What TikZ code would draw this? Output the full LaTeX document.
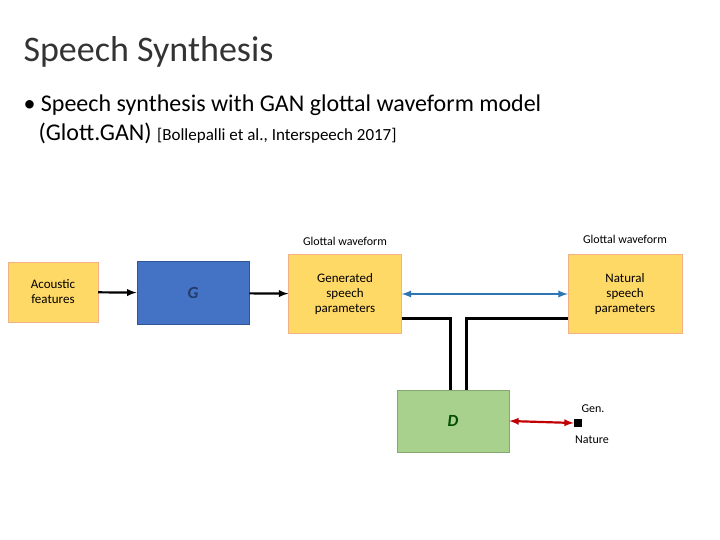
\documentclass[tikz,border=0pt]{standalone}
\usepackage{fontspec}
\setmainfont{Carlito}
\usetikzlibrary{positioning}
\definecolor{boxfill}{HTML}{FFD966}
\definecolor{boxline}{HTML}{F4B183}
\definecolor{gblue}{HTML}{4472C4}
\definecolor{gline}{HTML}{2F5597}
\definecolor{dgreen}{HTML}{A9D18E}
\definecolor{arrowblue}{HTML}{2E75B6}
\definecolor{arrowred}{HTML}{C00000}
\tikzset{
    param/.style={rectangle, draw=boxline, fill=boxfill, align=center, font=\fontsize{13pt}{15pt}\selectfont, inner sep=0pt},
    net/.style={rectangle, draw=gline, fill=gblue, thick, font=\fontsize{17pt}{17pt}\selectfont\bfseries\itshape},
    note/.style={font=\fontsize{12pt}{14pt}\selectfont},
    arrow/.style={->, >=latex, line width=2.2pt},
    link/.style={line width=3pt}
}
\begin{document}
\begin{tikzpicture}[x=1pt, y=-1pt]
        \useasboundingbox (0,0) rectangle (720,540);

        % --- Title and bullet ---
        \node (title) [anchor=base west, font=\fontsize{36pt}{40pt}\selectfont, text=black!80] at (20,62) {Speech Synthesis};
        \node (bullet) [anchor=base west, font=\fontsize{24pt}{28pt}\selectfont] at (20,112) {\textbullet\ Speech synthesis with GAN glottal waveform model};
        \node (bullet2) [anchor=base west, font=\fontsize{24pt}{28pt}\selectfont] at (35,141) {(Glott.GAN) {\fontsize{17pt}{20pt}\selectfont[Bollepalli et al., Interspeech 2017]}};

        % --- Boxes ---
        \node (Acoustic) [param, minimum width=90pt, minimum height=60pt] at (53,292) {Acoustic\\features};
        \node (G) [net, minimum width=112pt, minimum height=63pt, text=gline!70!black] at (193,293) {G};
        \node (Generated) [param, minimum width=113pt, minimum height=79pt] at (345,294) {Generated\\speech\\parameters};
        \node (Natural) [param, minimum width=114pt, minimum height=79pt] at (625,294) {Natural\\speech\\parameters};
        \node (D) [rectangle, fill=dgreen, draw=dgreen!80!black, minimum width=112pt, minimum height=62pt, font=\fontsize{17pt}{17pt}\selectfont\bfseries\itshape, text=green!30!black] at (453,421) {D};

        % --- Labels ---
        \node (GlottalGen) [note, above=5pt of Generated] {Glottal waveform};
        \node (GlottalNat) [note, above=7pt of Natural] {Glottal waveform};
        \node (Out) [rectangle, fill=black, minimum size=8pt, inner sep=0pt] at (578,423) {};
        \node (GenLbl) [note, anchor=base] at (593,412) {Gen.};
        \node (NatLbl) [note, anchor=base] at (592,443) {Nature};

        % --- Arrows ---
        \draw [arrow] (Acoustic) -- (G);
        \draw [arrow] (G) -- (Generated);
        \draw [<->, >=latex, line width=2.2pt, arrowblue] (Generated) -- (Natural);
        \draw [link] ([yshift=-24pt]Generated.east) -| ([xshift=-3pt]D.north);
        \draw [link] ([yshift=-24pt]Natural.west) -| ([xshift=13pt]D.north);
        \draw [<->, >=latex, line width=2.2pt, arrowred] (D.east) -- (Out.west);
\end{tikzpicture}
\end{document}
